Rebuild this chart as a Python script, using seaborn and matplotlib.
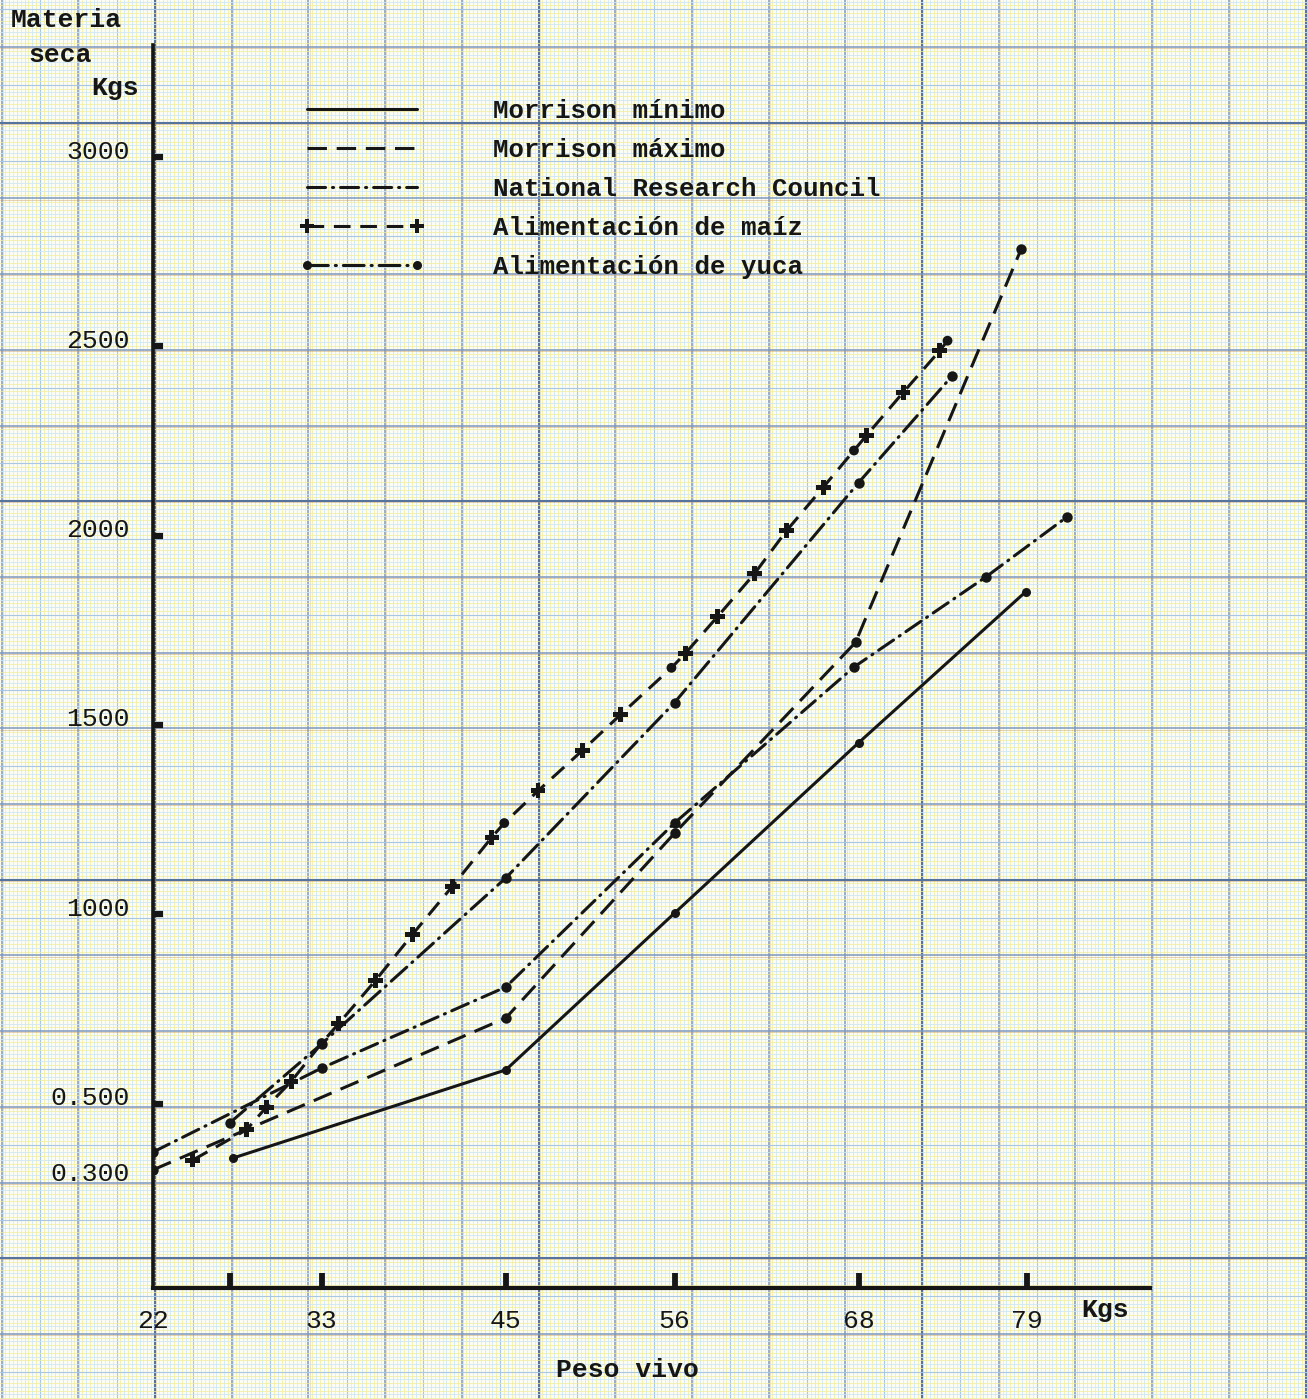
import numpy as np
import pandas as pd
import matplotlib
matplotlib.use("Agg")
import matplotlib.pyplot as plt
import seaborn as sns
from matplotlib.lines import Line2D
from matplotlib.transforms import ScaledTranslation

# ---- data: peso vivo (kg) vs materia seca (kg) ----
min_peso = [27.2, 45, 56, 68, 78.9]
min_ms = [356, 589, 1003, 1453, 1852]

max_peso = [22, 45, 56, 67.8, 78.6]
max_ms = [325, 726, 1214, 1718, 2757]

nrc_peso = [22, 33, 45, 56, 67.7, 76.3, 81.6]
nrc_ms = [372, 594, 808, 1241, 1653, 1891, 2050]

maiz_peso = [24.6, 28.1, 29.4, 31.0, 34.1, 36.5, 38.9, 41.5, 44.1, 47.1,
             50.0, 52.5, 56.7, 58.8, 61.2, 63.3, 65.7, 68.5, 70.9, 73.3]
maiz_ms = [351, 431, 491, 558, 711, 825, 946, 1073, 1204, 1326,
           1433, 1528, 1689, 1786, 1899, 2013, 2128, 2264, 2378, 2489]
maiz_ref_peso = [33, 44.9, 55.8, 67.7, 73.8]
maiz_ref_ms = [660, 1241, 1651, 2225, 2515]

yuca_peso = [27, 33, 45, 56, 68, 74.1]
yuca_ms = [449, 658, 1096, 1559, 2140, 2422]

x_ticks = [22, 27, 33, 45, 56, 68, 79]
x_labels = ["22", "", "33", "45", "56", "68", "79"]
y_ticks = [300, 500, 1000, 1500, 2000, 2500, 3000]
y_labels = ["0.300", "0.500", "1000", "1500", "2000", "2500", "3000"]

legend_labels = ["Morrison mínimo", "Morrison máximo",
                 "National Research Council", "Alimentación de maíz",
                 "Alimentación de yuca"]

# ---- style ----
sns.set_theme(style="white")
plt.rcParams["font.family"] = ["Liberation Mono", "DejaVu Sans Mono"]
plt.rcParams["lines.scale_dashes"] = False

INK = "#161616"
W, H = 1307, 1399
fig = plt.figure(figsize=(W / 100, H / 100), dpi=100)
fig.patch.set_facecolor("#fbfcf3")

# ---- graph paper background ----
bg = fig.add_axes([0, 0, 1, 1], zorder=-10)
bg.set_xlim(0, W)
bg.set_ylim(H, 0)
bg.axis("off")
sx, sy = 76.7, 75.7
x0, y0 = 155 - 3 * sx, 47 - 1 * sy


def paper_style(k, heavy_phase):
    if k % 10 == 0 and (k // 10) % 5 == heavy_phase:
        return "#56739e", 1.5
    if k % 10 == 0:
        return "#7e98c0", 1.1
    if k % 5 == 0:
        return "#a9c7e3", 0.8
    return "#cfe7f3", 0.6


for k in range(0, 200):
    xv = x0 + k * sx / 10
    if xv > W + 2:
        break
    c, lw = paper_style(k, 3)
    bg.axvline(xv, color=c, lw=lw)
    bg.axvline(xv + sx / 20, color="#f1ee9c", lw=0.7, alpha=0.75)
    if k % 10 == 0:
        bg.axvline(xv + 1.2, color="#c9a25e", lw=0.5, alpha=0.45)
for k in range(0, 250):
    yv = y0 + k * sy / 10
    if yv > H + 2:
        break
    c, lw = paper_style(k, 2)
    bg.axhline(yv, color=c, lw=lw)
    bg.axhline(yv + sy / 20, color="#f1ee9c", lw=0.7, alpha=0.75)
    if k % 10 == 0:
        bg.axhline(yv + 1.2, color="#c9995a", lw=0.6, alpha=0.5)

# ---- main axes ----
ax = fig.add_axes([153 / W, 1 - 1288 / H, (1150 - 153) / W, (1288 - 45) / H])
ax.patch.set_alpha(0)
ax.set_xlim(22, 87.0)
ax.set_ylim(13, 3296)

LW = 2.2
df_min = pd.DataFrame({"peso": min_peso, "ms": min_ms})
sns.lineplot(data=df_min, x="peso", y="ms", ax=ax, color=INK, lw=LW,
             marker="o", markersize=6.5, markeredgewidth=0, estimator=None, sort=False)

df_max = pd.DataFrame({"peso": max_peso, "ms": max_ms})
sns.lineplot(data=df_max, x="peso", y="ms", ax=ax, color=INK, lw=LW,
             linestyle=(0, (14, 7)), marker="o", markersize=7.5, markeredgewidth=0,
             estimator=None, sort=False)

df_nrc = pd.DataFrame({"peso": nrc_peso, "ms": nrc_ms})
sns.lineplot(data=df_nrc, x="peso", y="ms", ax=ax, color=INK, lw=LW,
             linestyle=(0, (13, 5, 0.8, 5)), dash_capstyle="round",
             marker="o", markersize=7.5, markeredgewidth=0, estimator=None, sort=False)

df_maiz = pd.DataFrame({"peso": maiz_peso + maiz_ref_peso,
                        "ms": maiz_ms + maiz_ref_ms}).sort_values("peso")
sns.lineplot(data=df_maiz, x="peso", y="ms", ax=ax, color=INK, lw=LW,
             linestyle=(0, (12, 7)), estimator=None, sort=False)
sns.scatterplot(x=maiz_peso, y=maiz_ms, ax=ax, color=INK, marker="P", s=115,
                edgecolor="none", zorder=5)
sns.scatterplot(x=maiz_ref_peso, y=maiz_ref_ms, ax=ax, color=INK, marker="o",
                s=50, edgecolor="none", zorder=5)

df_yuca = pd.DataFrame({"peso": yuca_peso, "ms": yuca_ms})
sns.lineplot(data=df_yuca, x="peso", y="ms", ax=ax, color=INK, lw=LW,
             linestyle=(0, (15, 5, 0.8, 5)), dash_capstyle="round",
             marker="o", markersize=7.5, markeredgewidth=0, estimator=None, sort=False)

# ---- axes styling ----
for side in ["top", "right"]:
    ax.spines[side].set_visible(False)
ax.spines["left"].set_linewidth(2.6)
ax.spines["bottom"].set_linewidth(3.0)
ax.spines["left"].set_color(INK)
ax.spines["bottom"].set_color(INK)
ax.grid(False)
ax.set_xlabel("")
ax.set_ylabel("")

ax.set_xticks(x_ticks)
ax.set_xticklabels(x_labels, fontsize=19, color=INK)
ax.set_yticks(y_ticks)
ax.set_yticklabels(y_labels, fontsize=19, color=INK)
ax.tick_params(axis="x", direction="in", length=11, width=4.2, color=INK, pad=15,
               bottom=True)
ax.tick_params(axis="y", direction="in", length=7, width=4.5, color=INK, pad=17,
               left=True)
ax.xaxis.get_major_ticks()[0].tick1line.set_visible(False)
ax.yaxis.get_major_ticks()[0].tick1line.set_visible(False)
for lab in ax.get_yticklabels():
    lab.set_transform(lab.get_transform() + ScaledTranslation(0, 8 / 100, fig.dpi_scale_trans))

# ---- titles ----
bold = dict(fontsize=19, fontweight="bold", color=INK, ha="center", va="center")
fig.text(66 / W, 1 - 20 / H, "Materia", **bold)
fig.text(60 / W, 1 - 55 / H, "seca", **bold)
fig.text(115 / W, 1 - 88 / H, "Kgs", **bold)
fig.text(1105 / W, 1 - 1310 / H, "Kgs", **bold)
fig.text(627 / W, 1 - 1370 / H, "Peso vivo", **bold)

# ---- legend ----
handles = [
    Line2D([], [], color=INK, lw=LW),
    Line2D([], [], color=INK, lw=LW, linestyle=(0, (14, 7))),
    Line2D([], [], color=INK, lw=LW, linestyle=(0, (13, 5, 0.8, 5)), dash_capstyle="round"),
    Line2D([], [], color=INK, lw=LW, linestyle=(0, (12, 7)), marker="P", markersize=10,
           markeredgewidth=0),
    Line2D([], [], color=INK, lw=LW, linestyle=(0, (15, 5, 0.8, 5)), dash_capstyle="round",
           marker="o", markersize=6.5, markeredgewidth=0),
]
leg = fig.legend(handles, legend_labels, loc="upper left",
                 bbox_to_anchor=(299 / W, 1 - 99 / H), frameon=False,
                 prop={"family": "Liberation Mono", "weight": "bold", "size": 18.5},
                 handlelength=4.9, handletextpad=2.65, labelspacing=0.58,
                 borderpad=0, borderaxespad=0, numpoints=2)
for t in leg.get_texts():
    t.set_color(INK)

fig.savefig("out.png", dpi=100, facecolor=fig.get_facecolor())
